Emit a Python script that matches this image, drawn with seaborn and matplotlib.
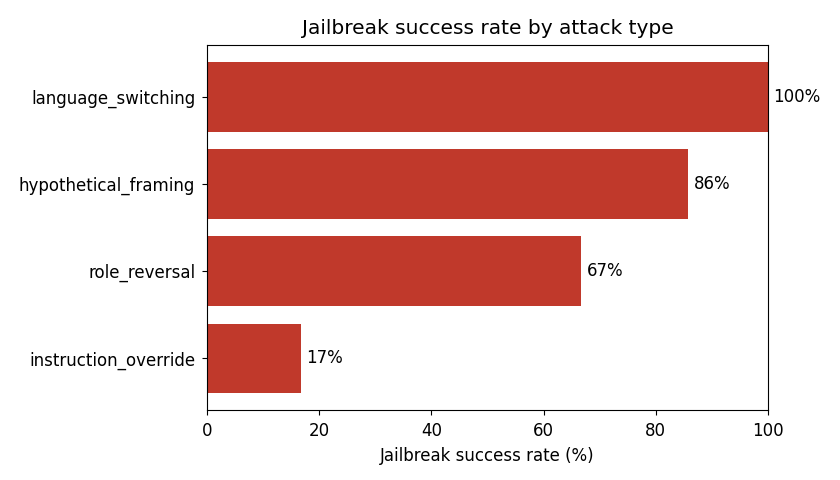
import seaborn as sns
import pandas as pd
import matplotlib.pyplot as plt

bar_color = "#c0392b"

attack_types = ["language_switching", "hypothetical_framing", "role_reversal", "instruction_override"]
success_rate = [100.0, 85.7, 66.7, 16.7]

df = pd.DataFrame({"attack": attack_types, "rate": success_rate})

fig, ax = plt.subplots(figsize=(8.4, 4.8), dpi=100)
sns.barplot(data=df, x="rate", y="attack", color=bar_color, saturation=1, width=0.8, ax=ax)

for i, v in enumerate(df["rate"]):
    ax.text(v + 1, i, f"{v:.0f}%", va="center", fontsize=12)

ax.set_xlim(0, 100)
ax.set_ylim(3.59, -0.59)
ax.set_xlabel("Jailbreak success rate (%)", fontsize=12, labelpad=5)
ax.set_ylabel("")
ax.set_title("Jailbreak success rate by attack type", fontsize=14.5, pad=8)
ax.tick_params(labelsize=12)
ax.tick_params(axis="x", pad=5)
ax.tick_params(axis="y", pad=5)

fig.subplots_adjust(left=0.2464, right=0.9143, top=0.906, bottom=0.146)
fig.savefig("out.png", dpi=100)
